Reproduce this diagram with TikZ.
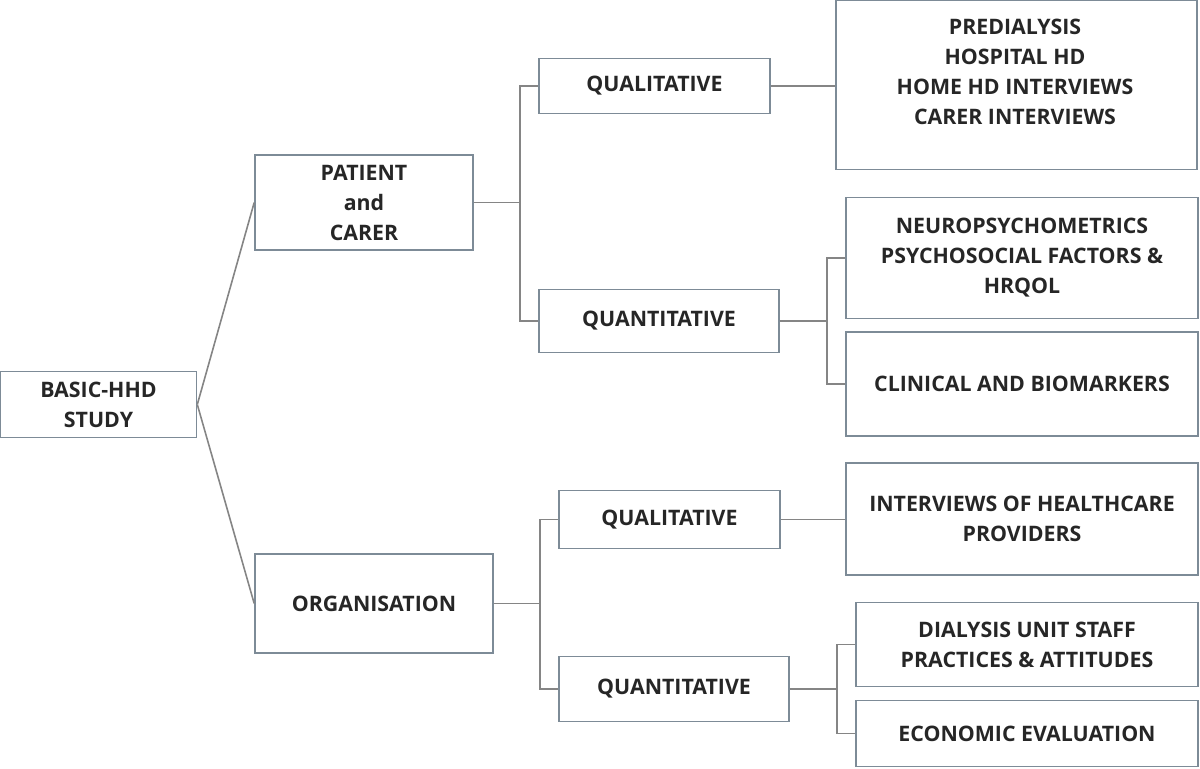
\documentclass[tikz,border=0pt]{standalone}
\usepackage{fontspec}
\setmainfont{Open Sans}
\definecolor{boxc}{HTML}{7D8B97}
\definecolor{linec}{HTML}{858585}
\definecolor{txtc}{HTML}{262626}
\begin{document}
\begin{tikzpicture}[x=0.75pt,y=-0.75pt,
  box/.style={draw=boxc, line width=1.2pt, fill=white, inner sep=0pt, align=center,
    text=txtc, font=\fontsize{16}{22.5}\selectfont\bfseries},
  txt/.style={inner sep=0pt, align=center, text=txtc, font=\fontsize{16}{22.5}\selectfont\bfseries},
  conn/.style={draw=linec, line width=1.2pt}]
\useasboundingbox (0,0) rectangle (1200,768);
% boxes: center, width, height
\node[box, minimum width=196*0.75pt, minimum height=66*0.75pt] (basic) at (98.5,404.5) {BASIC-HHD\\STUDY};
\node[box, minimum width=218*0.75pt, minimum height=95*0.75pt] (patient) at (364,202.5) {PATIENT\\and\\CARER};
\node[box, minimum width=238*0.75pt, minimum height=99*0.75pt] (org) at (374,603.5) {ORGANISATION};
\node[box, minimum width=231*0.75pt, minimum height=55*0.75pt] (qual1) at (654.5,86) {QUALITATIVE};
\node[box, minimum width=240*0.75pt, minimum height=63*0.75pt] (quant1) at (659,321) {QUANTITATIVE};
\node[box, minimum width=221*0.75pt, minimum height=58*0.75pt] (qual2) at (669.5,519.5) {QUALITATIVE};
\node[box, minimum width=230*0.75pt, minimum height=65*0.75pt] (quant2) at (674,689) {QUANTITATIVE};
\node[box, minimum width=361*0.75pt, minimum height=169*0.75pt] (pre) at (1016.5,85) {};
\node[txt] (pretext) at (1015,71.5) {PREDIALYSIS\\HOSPITAL HD\\HOME HD INTERVIEWS\\CARER INTERVIEWS};
\node[box, minimum width=352*0.75pt, minimum height=121*0.75pt] (neuro) at (1022,258) {NEUROPSYCHOMETRICS\\PSYCHOSOCIAL FACTORS \&\\HRQOL};
\node[box, minimum width=352*0.75pt, minimum height=104*0.75pt] (clin) at (1022,384) {CLINICAL AND BIOMARKERS};
\node[box, minimum width=352*0.75pt, minimum height=112*0.75pt] (inter) at (1022,519) {INTERVIEWS OF HEALTHCARE\\PROVIDERS};
\node[box, minimum width=342*0.75pt, minimum height=84*0.75pt] (dial) at (1027,644.5) {DIALYSIS UNIT STAFF\\PRACTICES \& ATTITUDES};
\node[box, minimum width=342*0.75pt, minimum height=66*0.75pt] (econ) at (1027,733.5) {ECONOMIC EVALUATION};
% connectors
\draw[conn] (basic.east) -- (patient.west);
\draw[conn] (basic.east) -- (org.west);
\draw[conn] (patient.east) -- ++(46,0) |- (qual1.west);
\draw[conn] (patient.east) -- ++(46,0) |- (quant1.west);
\draw[conn] (qual1.east) -- (qual1.east -| pre.west);
\draw[conn] (quant1.east) -- ++(47,0) |- (neuro.west);
\draw[conn] (quant1.east) -- ++(47,0) |- (clin.west);
\draw[conn] (org.east) -- ++(46,0) |- (qual2.west);
\draw[conn] (org.east) -- ++(46,0) |- (quant2.west);
\draw[conn] (qual2.east) -- (qual2.east -| inter.west);
\draw[conn] (quant2.east) -- ++(47,0) |- (dial.west);
\draw[conn] (quant2.east) -- ++(47,0) |- (econ.west);
\end{tikzpicture}
\end{document}
